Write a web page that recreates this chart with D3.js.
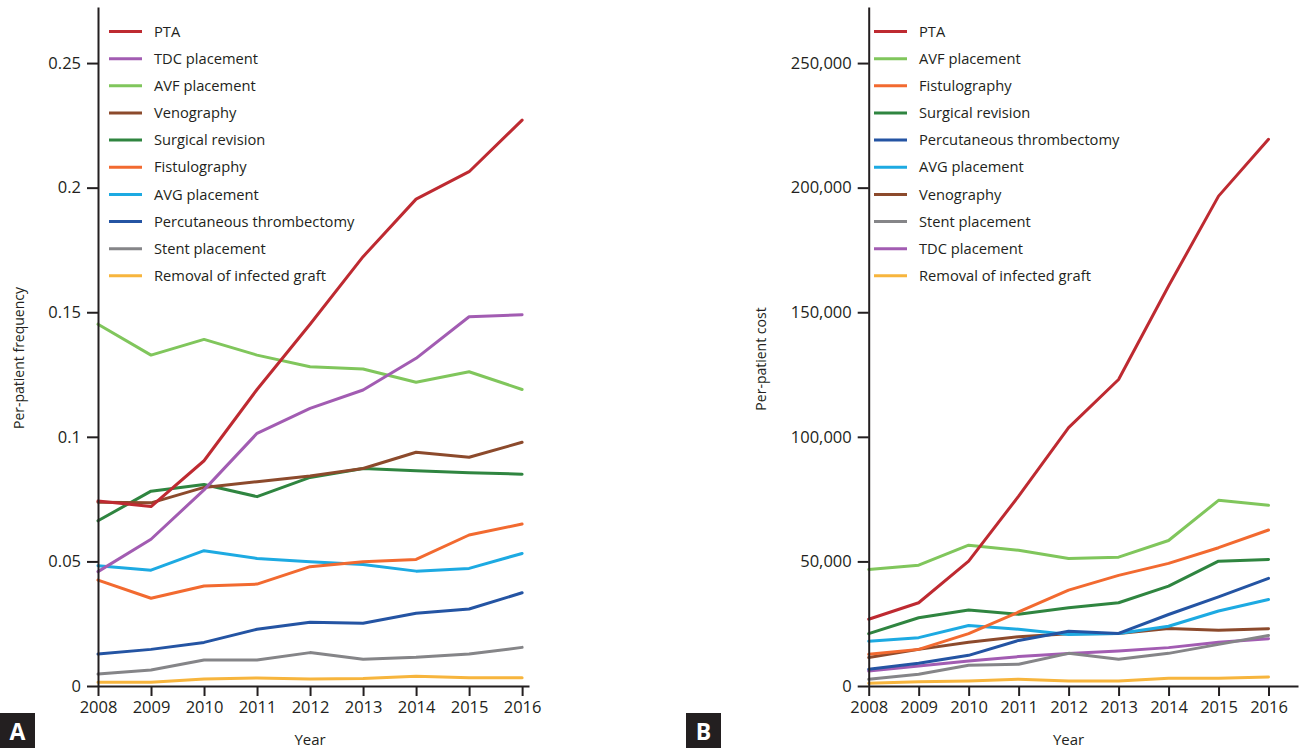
<!DOCTYPE html>
<html>
<head>
<meta charset="utf-8">
<script src="https://cdn.jsdelivr.net/npm/d3@7"></script>
<style>
  html, body { margin: 0; padding: 0; background: #fff; }
  svg { display: block; font-family: "Open Sans", "DejaVu Sans", sans-serif; }
  .axis path, .axis line { stroke: #231f20; stroke-width: 2px; }
  .axis text { fill: #231f20; font-size: 16.5px; font-family: "Open Sans", sans-serif; }
</style>
</head>
<body>
<svg id="chart" width="1301" height="751"></svg>
<script>
// Years on the x axis
const years = [2008, 2009, 2010, 2011, 2012, 2013, 2014, 2015, 2016];

// Panel A: per-patient frequency of each procedure
const freqPTA        = [0.0742, 0.0720, 0.0904, 0.1190, 0.1452, 0.1723, 0.1954, 0.2064, 0.2271];
const freqTDC        = [0.0459, 0.0589, 0.0787, 0.1014, 0.1114, 0.1188, 0.1315, 0.1482, 0.1490];
const freqAVF        = [0.1452, 0.1328, 0.1391, 0.1328, 0.1281, 0.1272, 0.1219, 0.1261, 0.1190];
const freqVeno       = [0.0737, 0.0735, 0.0797, 0.0820, 0.0843, 0.0873, 0.0938, 0.0918, 0.0978];
const freqSurgical   = [0.0663, 0.0782, 0.0809, 0.0760, 0.0837, 0.0873, 0.0864, 0.0856, 0.0850];
const freqFistulo    = [0.0425, 0.0352, 0.0401, 0.0409, 0.0479, 0.0499, 0.0508, 0.0606, 0.0650];
const freqAVG        = [0.0483, 0.0465, 0.0543, 0.0512, 0.0499, 0.0488, 0.0461, 0.0472, 0.0532];
const freqThromb     = [0.0128, 0.0147, 0.0175, 0.0228, 0.0256, 0.0252, 0.0292, 0.0309, 0.0374];
const freqStent      = [0.0048, 0.0064, 0.0104, 0.0104, 0.0134, 0.0107, 0.0115, 0.0128, 0.0155];
const freqRemoval    = [0.0015, 0.0015, 0.0028, 0.0032, 0.0028, 0.0030, 0.0039, 0.0033, 0.0033];

// Panel B: per-patient cost of each procedure
const costPTA        = [26800, 33400, 50100, 76200, 103700, 123000, 160500, 196600, 219400];
const costAVF        = [46800, 48500, 56500, 54500, 51200, 51700, 58400, 74500, 72500];
const costFistulo    = [12700, 14700, 21000, 29700, 38500, 44400, 49200, 55500, 62600];
const costSurgical   = [21000, 27400, 30500, 28800, 31400, 33400, 40100, 50100, 50800];
const costThromb     = [6700, 9100, 12300, 18300, 22000, 21100, 28700, 35800, 43200];
const costAVG        = [18000, 19400, 24300, 22800, 20700, 21100, 24000, 30100, 34700];
const costVeno       = [11400, 14700, 17600, 19800, 21000, 21100, 23100, 22400, 23000];
const costStent      = [2700, 4700, 8300, 8700, 13100, 10700, 13100, 16700, 20300];
const costTDC        = [6000, 8000, 10000, 11800, 13000, 14000, 15400, 17600, 19000];
const costRemoval    = [1100, 1700, 2000, 2700, 2000, 2000, 3100, 3100, 3600];

// Tick values
const freqTicks = [0, 0.05, 0.1, 0.15, 0.2, 0.25];
const costTicks = [0, 50000, 100000, 150000, 200000, 250000];

// Procedure colours
const colors = {
  "PTA": "#be2a31",
  "TDC placement": "#a25cb2",
  "AVF placement": "#80c65c",
  "Venography": "#8c4a2c",
  "Surgical revision": "#2f8540",
  "Fistulography": "#f26a30",
  "AVG placement": "#1daae2",
  "Percutaneous thrombectomy": "#2454a3",
  "Stent placement": "#858588",
  "Removal of infected graft": "#f7b53d"
};

const seriesA = [
  { name: "PTA", values: freqPTA },
  { name: "TDC placement", values: freqTDC },
  { name: "AVF placement", values: freqAVF },
  { name: "Venography", values: freqVeno },
  { name: "Surgical revision", values: freqSurgical },
  { name: "Fistulography", values: freqFistulo },
  { name: "AVG placement", values: freqAVG },
  { name: "Percutaneous thrombectomy", values: freqThromb },
  { name: "Stent placement", values: freqStent },
  { name: "Removal of infected graft", values: freqRemoval }
];

const seriesB = [
  { name: "PTA", values: costPTA },
  { name: "AVF placement", values: costAVF },
  { name: "Fistulography", values: costFistulo },
  { name: "Surgical revision", values: costSurgical },
  { name: "Percutaneous thrombectomy", values: costThromb },
  { name: "AVG placement", values: costAVG },
  { name: "Venography", values: costVeno },
  { name: "Stent placement", values: costStent },
  { name: "TDC placement", values: costTDC },
  { name: "Removal of infected graft", values: costRemoval }
];

const svg = d3.select("#chart");

function drawPanel(cfg) {
  const g = svg.append("g");

  const x = d3.scaleLinear().domain(cfg.xDomain).range(cfg.xRange);
  const y = d3.scaleLinear().domain(cfg.yDomain).range(cfg.yRange);

  // Lines (drawn first, axes on top)
  const line = d3.line()
    .x((d, i) => x(years[i]))
    .y(d => y(d));

  // draw bottom-most legend entries first so PTA ends up on top
  g.append("g").selectAll("path")
    .data(cfg.series.slice().reverse())
    .join("path")
      .attr("d", d => line(d.values))
      .attr("fill", "none")
      .attr("stroke", d => colors[d.name])
      .attr("stroke-width", 3)
      .attr("stroke-linejoin", "round")
      .attr("stroke-linecap", "round");

  // Y axis
  g.append("g")
    .attr("class", "axis")
    .attr("transform", `translate(${cfg.xRange[0]},0)`)
    .call(d3.axisLeft(y).tickValues(cfg.yTicks).tickFormat(cfg.yFormat)
      .tickSize(11).tickSizeOuter(0).tickPadding(6));

  // X axis
  g.append("g")
    .attr("class", "axis")
    .attr("transform", `translate(0,${cfg.yRange[0]})`)
    .call(d3.axisBottom(x).tickValues(years).tickFormat(d3.format("d"))
      .tickSize(10).tickSizeOuter(0).tickPadding(5));

  // Axis titles
  g.append("text")
    .attr("transform", `translate(${cfg.yTitleX},${cfg.yTitleY}) rotate(-90)`)
    .attr("text-anchor", "middle")
    .attr("fill", "#231f20")
    .style("font-size", "14px")
    .text(cfg.yTitle);

  g.append("text")
    .attr("x", (x(years[0]) + x(years[years.length - 1])) / 2)
    .attr("y", 745)
    .attr("text-anchor", "middle")
    .attr("fill", "#231f20")
    .style("font-size", "15px")
    .text("Year");

  // Legend
  const legend = g.append("g")
    .attr("transform", `translate(${cfg.legendX},31.5)`);
  const item = legend.selectAll("g")
    .data(cfg.series)
    .join("g")
      .attr("transform", (d, i) => `translate(0,${i * 27.15})`);
  item.append("line")
    .attr("x1", 0).attr("x2", 33)
    .attr("stroke", d => colors[d.name])
    .attr("stroke-width", 3);
  item.append("text")
    .attr("x", 45)
    .attr("dy", "0.35em")
    .attr("fill", "#231f20")
    .style("font-size", "14.7px")
    .text(d => d.name);

  // Panel letter
  const tag = g.append("g").attr("transform", `translate(${cfg.tagX},713)`);
  tag.append("rect").attr("width", 35).attr("height", 35).attr("fill", "#231f20");
  tag.append("text")
    .attr("x", 17.5).attr("y", 26.5)
    .attr("text-anchor", "middle")
    .attr("fill", "#fff")
    .style("font-size", "23px")
    .style("font-weight", "bold")
    .text(cfg.tag);
}

drawPanel({
  series: seriesA,
  xDomain: [2008, 2016.13], xRange: [98, 529],
  yDomain: [0, 0.2725], yRange: [686, 7],
  yTicks: freqTicks,
  yFormat: d => d === 0 ? "0" : String(+d.toFixed(2)),
  yTitle: "Per-patient frequency", yTitleX: 24, yTitleY: 358,
  legendX: 109, tag: "A", tagX: 0
});

drawPanel({
  series: seriesB,
  xDomain: [2008, 2016.59], xRange: [868.7, 1298],
  yDomain: [0, 272500], yRange: [686, 7],
  yTicks: costTicks,
  yFormat: d3.format(","),
  yTitle: "Per-patient cost", yTitleX: 766, yTitleY: 359,
  legendX: 874, tag: "B", tagX: 686
});
</script>
</body>
</html>
